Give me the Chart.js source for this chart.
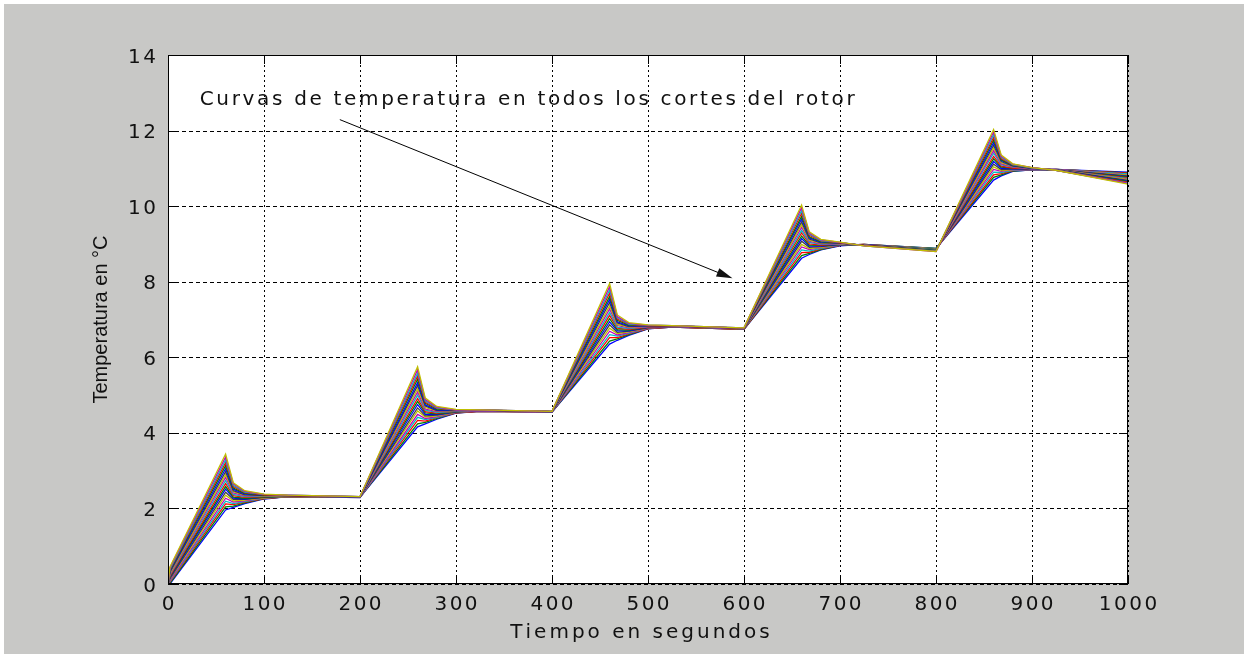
<!DOCTYPE html>
<html>
<head>
<meta charset="utf-8">
<script src="https://cdn.jsdelivr.net/npm/chart.js@4/dist/chart.umd.min.js"></script>
<style>
html, body { margin: 0; padding: 0; background: #fff; }
canvas { display: block; }
</style>
</head>
<body>
<canvas id="grafica" width="1244" height="654"></canvas>
<script>
// tiempos de muestreo (s)
const tiempo = [0, 2, 60, 68, 80, 100, 125, 200, 260, 268, 280, 300, 325, 400, 460, 468, 480, 500, 525, 600, 660, 668, 680, 700, 725, 800, 860, 868, 880, 900, 925, 1000]

// temperatura de cada corte del rotor (°C), del corte interior al exterior
const corte01 = [0, 0.00, 1.96, 2.03, 2.13, 2.25, 2.31, 2.29, 4.16, 4.24, 4.36, 4.52, 4.57, 4.55, 6.35, 6.45, 6.58, 6.75, 6.80, 6.74, 8.62, 8.72, 8.84, 8.95, 8.99, 8.88, 10.69, 10.80, 10.92, 10.96, 10.97, 10.90]
const corte02 = [0, 0.02, 2.04, 2.06, 2.15, 2.26, 2.31, 2.29, 4.24, 4.28, 4.38, 4.53, 4.57, 4.55, 6.43, 6.49, 6.60, 6.76, 6.80, 6.74, 8.69, 8.75, 8.85, 8.96, 8.99, 8.88, 10.76, 10.83, 10.93, 10.96, 10.97, 10.88]
const corte03 = [0, 0.05, 2.12, 2.10, 2.17, 2.26, 2.31, 2.29, 4.33, 4.31, 4.40, 4.53, 4.57, 4.55, 6.52, 6.52, 6.62, 6.76, 6.80, 6.74, 8.77, 8.78, 8.87, 8.96, 8.99, 8.87, 10.83, 10.86, 10.94, 10.97, 10.97, 10.87]
const corte04 = [0, 0.07, 2.19, 2.13, 2.18, 2.27, 2.32, 2.29, 4.41, 4.35, 4.41, 4.54, 4.58, 4.55, 6.60, 6.56, 6.63, 6.77, 6.81, 6.75, 8.84, 8.81, 8.88, 8.97, 8.98, 8.87, 10.90, 10.89, 10.95, 10.97, 10.97, 10.85]
const corte05 = [0, 0.09, 2.27, 2.17, 2.20, 2.28, 2.32, 2.29, 4.49, 4.38, 4.43, 4.54, 4.58, 4.55, 6.69, 6.59, 6.65, 6.77, 6.81, 6.75, 8.92, 8.85, 8.90, 8.97, 8.98, 8.86, 10.97, 10.92, 10.96, 10.97, 10.97, 10.83]
const corte06 = [0, 0.12, 2.35, 2.20, 2.22, 2.28, 2.32, 2.30, 4.58, 4.42, 4.45, 4.55, 4.58, 4.56, 6.77, 6.63, 6.67, 6.78, 6.81, 6.75, 8.99, 8.88, 8.91, 8.98, 8.98, 8.86, 11.04, 10.94, 10.97, 10.98, 10.96, 10.82]
const corte07 = [0, 0.14, 2.43, 2.24, 2.24, 2.29, 2.32, 2.30, 4.66, 4.45, 4.47, 4.55, 4.58, 4.56, 6.86, 6.66, 6.69, 6.78, 6.81, 6.75, 9.07, 8.91, 8.93, 8.98, 8.98, 8.85, 11.11, 10.97, 10.98, 10.98, 10.96, 10.80]
const corte08 = [0, 0.17, 2.51, 2.27, 2.25, 2.30, 2.33, 2.30, 4.75, 4.49, 4.48, 4.56, 4.59, 4.56, 6.94, 6.70, 6.70, 6.79, 6.82, 6.76, 9.14, 8.94, 8.94, 8.99, 8.98, 8.85, 11.18, 11.00, 10.99, 10.98, 10.96, 10.78]
const corte09 = [0, 0.19, 2.58, 2.30, 2.27, 2.30, 2.33, 2.30, 4.83, 4.53, 4.50, 4.56, 4.59, 4.56, 7.02, 6.73, 6.72, 6.80, 6.82, 6.76, 9.21, 8.97, 8.96, 8.99, 8.97, 8.85, 11.25, 11.03, 11.00, 10.99, 10.96, 10.77]
const corte10 = [0, 0.21, 2.66, 2.34, 2.29, 2.31, 2.33, 2.30, 4.91, 4.56, 4.52, 4.57, 4.59, 4.56, 7.11, 6.77, 6.74, 6.80, 6.82, 6.76, 9.29, 9.00, 8.97, 9.00, 8.97, 8.84, 11.32, 11.06, 11.01, 10.99, 10.96, 10.75]
const corte11 = [0, 0.24, 2.74, 2.37, 2.31, 2.32, 2.33, 2.30, 5.00, 4.60, 4.54, 4.57, 4.59, 4.56, 7.19, 6.80, 6.76, 6.81, 6.82, 6.76, 9.36, 9.04, 8.99, 9.00, 8.97, 8.84, 11.40, 11.09, 11.03, 10.99, 10.96, 10.73]
const corte12 = [0, 0.26, 2.82, 2.41, 2.33, 2.33, 2.33, 2.30, 5.08, 4.63, 4.56, 4.58, 4.59, 4.56, 7.28, 6.84, 6.78, 6.81, 6.82, 6.76, 9.44, 9.07, 9.00, 9.01, 8.97, 8.83, 11.47, 11.12, 11.04, 10.99, 10.96, 10.71]
const corte13 = [0, 0.28, 2.89, 2.44, 2.35, 2.33, 2.34, 2.30, 5.16, 4.67, 4.58, 4.58, 4.60, 4.56, 7.36, 6.87, 6.80, 6.82, 6.83, 6.77, 9.51, 9.10, 9.02, 9.01, 8.97, 8.83, 11.54, 11.15, 11.05, 11.00, 10.96, 10.70]
const corte14 = [0, 0.31, 2.97, 2.47, 2.36, 2.34, 2.34, 2.30, 5.25, 4.71, 4.59, 4.59, 4.60, 4.56, 7.45, 6.91, 6.81, 6.83, 6.83, 6.77, 9.58, 9.13, 9.03, 9.02, 8.96, 8.83, 11.61, 11.18, 11.06, 11.00, 10.96, 10.68]
const corte15 = [0, 0.33, 3.05, 2.51, 2.38, 2.35, 2.34, 2.30, 5.33, 4.74, 4.61, 4.59, 4.60, 4.56, 7.53, 6.94, 6.83, 6.83, 6.83, 6.77, 9.66, 9.16, 9.05, 9.02, 8.96, 8.82, 11.68, 11.21, 11.07, 11.00, 10.96, 10.66]
const corte16 = [0, 0.36, 3.13, 2.54, 2.40, 2.35, 2.34, 2.31, 5.42, 4.78, 4.63, 4.60, 4.60, 4.57, 7.61, 6.98, 6.85, 6.84, 6.83, 6.77, 9.73, 9.19, 9.06, 9.03, 8.96, 8.82, 11.75, 11.23, 11.08, 11.01, 10.95, 10.65]
const corte17 = [0, 0.38, 3.21, 2.58, 2.42, 2.36, 2.34, 2.31, 5.50, 4.81, 4.65, 4.60, 4.60, 4.57, 7.70, 7.01, 6.87, 6.84, 6.83, 6.77, 9.81, 9.23, 9.08, 9.03, 8.96, 8.81, 11.82, 11.26, 11.09, 11.01, 10.95, 10.63]
const corte18 = [0, 0.40, 3.28, 2.61, 2.43, 2.37, 2.35, 2.31, 5.58, 4.85, 4.66, 4.61, 4.61, 4.57, 7.78, 7.05, 6.88, 6.85, 6.84, 6.78, 9.88, 9.26, 9.09, 9.04, 8.95, 8.81, 11.89, 11.29, 11.10, 11.01, 10.95, 10.61]
const corte19 = [0, 0.43, 3.36, 2.65, 2.45, 2.37, 2.35, 2.31, 5.67, 4.88, 4.68, 4.61, 4.61, 4.57, 7.87, 7.08, 6.90, 6.85, 6.84, 6.78, 9.96, 9.29, 9.11, 9.04, 8.95, 8.80, 11.96, 11.32, 11.11, 11.02, 10.95, 10.60]
const corte20 = [0, 0.45, 3.44, 2.68, 2.47, 2.38, 2.35, 2.31, 5.75, 4.92, 4.70, 4.62, 4.61, 4.57, 7.95, 7.12, 6.92, 6.86, 6.84, 6.78, 10.03, 9.32, 9.12, 9.05, 8.95, 8.80, 12.03, 11.35, 11.12, 11.02, 10.95, 10.58]

const ticksX = [0, 100, 200, 300, 400, 500, 600, 700, 800, 900, 1000]
const ticksY = [0, 2, 4, 6, 8, 10, 12, 14]

const tituloX = 'Tiempo en segundos'
const tituloY = 'Temperatura en °C'
const textoNota = 'Curvas de temperatura en todos los cortes del rotor'

// posicion de la nota y de la flecha, en unidades de los ejes
const nota = { x: 33, y: 12.67 }
const flecha = { x0: 179, y0: 12.29, x1: 588, y1: 8.09 }

// orden de colores por defecto de matlab
const colores = ['#0000ff', '#008000', '#ff0000', '#00bfbf', '#bf00bf', '#bfbf00', '#404040']

const cortes = [corte01, corte02, corte03, corte04, corte05, corte06, corte07, corte08, corte09, corte10,
	corte11, corte12, corte13, corte14, corte15, corte16, corte17, corte18, corte19, corte20]

const FUENTE = '"DejaVu Sans", "Liberation Sans", sans-serif'

// texto con espaciado entre letras, como la fuente de mapa de bits de matlab
const textoEspaciado = (ctx, texto, x, y, align, espacio) => {
	const anchos = [...texto].map(ch => ctx.measureText(ch).width)
	const total = anchos.reduce((a, b) => a + b, 0) + espacio * (anchos.length - 1)
	let px = x
	if (align === 'center') px = x - total / 2
	if (align === 'right') px = x - total
	ctx.textAlign = 'left'
	;[...texto].forEach((ch, i) => {
		ctx.fillText(ch, px, y)
		px += anchos[i] + espacio
	})
}

const marcoMatlab = {
	id: 'marcoMatlab',
	beforeDraw(chart) {
		const ctx = chart.ctx
		const a = chart.chartArea
		const sx = chart.scales.x
		const sy = chart.scales.y
		ctx.save()
		ctx.fillStyle = '#ffffff'
		ctx.fillRect(0, 0, chart.width, chart.height)
		ctx.fillStyle = '#c8c8c6'
		ctx.fillRect(4, 4, chart.width - 4, chart.height - 4)
		ctx.fillStyle = '#ffffff'
		ctx.fillRect(a.left, a.top, a.right - a.left, a.bottom - a.top)

		// rejilla punteada
		ctx.strokeStyle = '#000'
		ctx.lineWidth = 1
		ctx.setLineDash([2, 3])
		ticksX.forEach(v => {
			const px = Math.round(sx.getPixelForValue(v)) + 0.5
			ctx.beginPath()
			ctx.moveTo(px, a.top)
			ctx.lineTo(px, a.bottom)
			ctx.stroke()
		})
		ctx.setLineDash([4, 3])
		ticksY.forEach(v => {
			const py = Math.round(sy.getPixelForValue(v)) + 0.5
			ctx.beginPath()
			ctx.moveTo(a.left, py)
			ctx.lineTo(a.right, py)
			ctx.stroke()
		})
		ctx.restore()
	},
	afterDatasetsDraw(chart) {
		const ctx = chart.ctx
		const a = chart.chartArea
		const sx = chart.scales.x
		const sy = chart.scales.y
		const largo = 9
		ctx.save()
		ctx.strokeStyle = '#000'
		ctx.lineWidth = 1
		ctx.setLineDash([])
		ctx.strokeRect(a.left + 0.5, a.top + 0.5, a.right - a.left - 1, a.bottom - a.top - 1)

		// marcas hacia dentro en los cuatro lados
		ctx.beginPath()
		ticksX.forEach(v => {
			const px = Math.round(sx.getPixelForValue(v)) + 0.5
			ctx.moveTo(px, a.bottom); ctx.lineTo(px, a.bottom - largo)
			ctx.moveTo(px, a.top); ctx.lineTo(px, a.top + largo)
		})
		ticksY.forEach(v => {
			const py = Math.round(sy.getPixelForValue(v)) + 0.5
			ctx.moveTo(a.left, py); ctx.lineTo(a.left + largo, py)
			ctx.moveTo(a.right, py); ctx.lineTo(a.right - largo, py)
		})
		ctx.stroke()

		// etiquetas de los ejes
		ctx.fillStyle = '#111'
		ctx.font = '20px ' + FUENTE
		ctx.textBaseline = 'alphabetic'
		ticksX.forEach(v => {
			textoEspaciado(ctx, String(v), sx.getPixelForValue(v), a.bottom + 26, 'center', 2.5)
		})
		ticksY.forEach(v => {
			textoEspaciado(ctx, String(v), a.left - 12, sy.getPixelForValue(v) + 7.5, 'right', 2.5)
		})

		textoEspaciado(ctx, tituloX, (a.left + a.right) / 2 - 8, a.bottom + 54, 'center', 3)

		ctx.save()
		ctx.translate(107, (a.top + a.bottom) / 2)
		ctx.rotate(-Math.PI / 2)
		ctx.font = '20px "Liberation Sans", Arial, sans-serif'
		ctx.textAlign = 'center'
		ctx.fillText(tituloY, 0, 0)
		ctx.restore()

		// nota con flecha
		ctx.font = '20px ' + FUENTE
		const anchoNota = [...textoNota].reduce((s, ch) => s + ctx.measureText(ch).width, 0)
		const espacio = (655 - anchoNota) / (textoNota.length - 1)
		textoEspaciado(ctx, textoNota, sx.getPixelForValue(nota.x), sy.getPixelForValue(nota.y), 'left', espacio)

		const x0 = sx.getPixelForValue(flecha.x0), y0 = sy.getPixelForValue(flecha.y0)
		const x1 = sx.getPixelForValue(flecha.x1), y1 = sy.getPixelForValue(flecha.y1)
		const ang = Math.atan2(y1 - y0, x1 - x0)
		ctx.beginPath()
		ctx.moveTo(x0, y0)
		ctx.lineTo(x1 - 10 * Math.cos(ang), y1 - 10 * Math.sin(ang))
		ctx.stroke()
		ctx.beginPath()
		ctx.moveTo(x1, y1)
		ctx.lineTo(x1 - 16 * Math.cos(ang) + 4.5 * Math.sin(ang), y1 - 16 * Math.sin(ang) - 4.5 * Math.cos(ang))
		ctx.lineTo(x1 - 16 * Math.cos(ang) - 4.5 * Math.sin(ang), y1 - 16 * Math.sin(ang) + 4.5 * Math.cos(ang))
		ctx.closePath()
		ctx.fill()
		ctx.restore()
	}
}

const datasets = cortes.map((corte, i) => ({
	label: 'corte ' + (i + 1),
	data: corte.map((v, k) => ({ x: tiempo[k], y: v })),
	borderColor: colores[i % colores.length],
	borderWidth: 1.3,
	pointRadius: 0,
	tension: 0,
	fill: false,
	order: cortes.length - i
}))

new Chart(document.getElementById('grafica'), {
	type: 'line',
	data: { datasets },
	options: {
		responsive: false,
		devicePixelRatio: 1,
		animation: false,
		layout: { padding: { left: 168, top: 55, right: 116, bottom: 70 } },
		plugins: { legend: { display: false }, tooltip: { enabled: false } },
		scales: {
			x: { type: 'linear', display: false, min: 0, max: 1000 },
			y: { type: 'linear', display: false, min: 0, max: 14 }
		}
	},
	plugins: [marcoMatlab]
})
</script>
</body>
</html>
